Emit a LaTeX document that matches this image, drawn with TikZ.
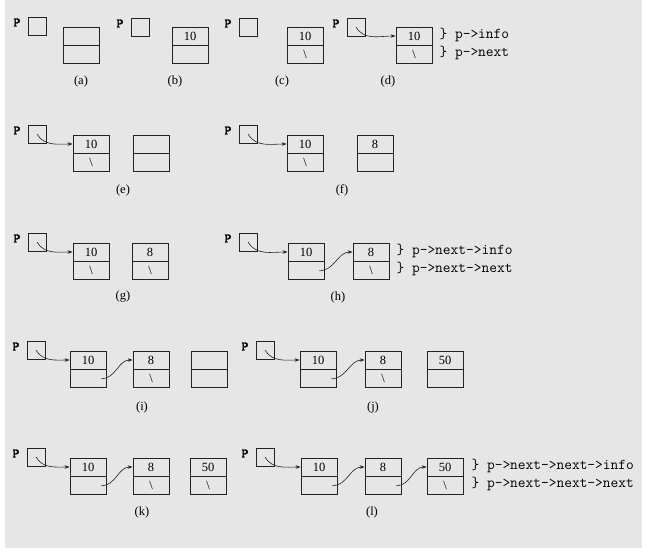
\documentclass[tikz,border=0pt]{standalone}
\usepackage{fontspec}
\setmainfont{Liberation Serif}
\newfontfamily\ptrfont[Extension=.otf,FakeBold=2.5]{lmmono10-regular}
\usetikzlibrary{positioning,arrows.meta}
\definecolor{panelgray}{HTML}{E6E6E6}
\definecolor{ink}{HTML}{222222}

\begin{document}
\begin{tikzpicture}[x=1pt,y=-1pt,
  cell/.style={rectangle,draw=ink,line width=0.8pt,minimum width=36pt,minimum height=18pt,inner sep=0pt,font=\fontsize{12.5}{14}\selectfont},
  ptrcell/.style={rectangle,draw=ink,line width=0.8pt,minimum size=18pt,inner sep=0pt},
  pname/.style={font=\fontsize{13}{15}\selectfont\ptrfont,inner sep=0pt},
  sublabel/.style={font=\fontsize{12.5}{14}\selectfont},
  field/.style={font=\fontsize{15}{17}\selectfont\ttfamily,inner sep=0pt},
  link/.style={draw=ink,line width=0.6pt,-{Stealth[length=5pt,width=3.5pt]}}]

\useasboundingbox (0,0) rectangle (646,552);
\fill[panelgray] (5,0) rectangle (642,548);

% (a)
\node[ptrcell] (pa) at (37,26) {};
\node[pname,left=7pt of pa,yshift=3.5pt] (Pa) {P};
\node[cell] (a1i) at (81,36) {};
\node[cell,below=0pt of a1i] (a1n) {};
\node[sublabel] (capa) at (81,81) {(a)};

% (b)
\node[ptrcell] (pb) at (140,27) {};
\node[pname,left=7pt of pb,yshift=3.5pt] (Pb) {P};
\node[cell] (b1i) at (190,36) {10};
\node[cell,below=0pt of b1i] (b1n) {};
\node[sublabel] (capb) at (175,81) {(b)};

% (c)
\node[ptrcell] (pc) at (248,27) {};
\node[pname,left=7pt of pc,yshift=3.5pt] (Pc) {P};
\node[cell] (c1i) at (305,36) {10};
\node[cell,below=0pt of c1i] (c1n) {\textbackslash};
\node[sublabel] (capc) at (282,81) {(c)};

% (d)
\node[ptrcell] (pd) at (356,27) {};
\node[pname,left=7pt of pd,yshift=3.5pt] (Pd) {P};
\node[cell] (d1i) at (414,36) {10};
\node[cell,below=0pt of d1i] (d1n) {\textbackslash};
\node[field,right=7pt of d1i,yshift=1pt] (dinfo) {\} p->info};
\node[field,right=7pt of d1n,yshift=2pt] (dnext) {\} p->next};
\node[sublabel] (capd) at (388,81) {(d)};
\draw[link] (pd.center) to[out=-60,in=180] (d1i.west);

% (e)
\node[ptrcell] (pe) at (37,134) {};
\node[pname,left=7pt of pe,yshift=3.5pt] (Pe) {P};
\node[cell] (e1i) at (91,144) {10};
\node[cell,below=0pt of e1i] (e1n) {\textbackslash};
\node[cell] (e2i) at (151,144) {};
\node[cell,below=0pt of e2i] (e2n) {};
\node[sublabel] (cape) at (123,190) {(e)};
\draw[link] (pe.center) to[out=-60,in=180] (e1i.west);

% (f)
\node[ptrcell] (pf) at (248,134) {};
\node[pname,left=7pt of pf,yshift=3.5pt] (Pf) {P};
\node[cell] (f1i) at (305,144) {10};
\node[cell,below=0pt of f1i] (f1n) {\textbackslash};
\node[cell] (f2i) at (375,144) {8};
\node[cell,below=0pt of f2i] (f2n) {};
\node[sublabel] (capf) at (342,190) {(f)};
\draw[link] (pf.center) to[out=-60,in=180] (f1i.west);

% (g)
\node[ptrcell] (pg) at (37,242) {};
\node[pname,left=7pt of pg,yshift=3.5pt] (Pg) {P};
\node[cell] (g1i) at (91,252) {10};
\node[cell,below=0pt of g1i] (g1n) {\textbackslash};
\node[cell] (g2i) at (150,252) {8};
\node[cell,below=0pt of g2i] (g2n) {\textbackslash};
\node[sublabel] (capg) at (123,297) {(g)};
\draw[link] (pg.center) to[out=-60,in=180] (g1i.west);

% (h)
\node[ptrcell] (ph) at (248,242) {};
\node[pname,left=7pt of ph,yshift=3.5pt] (Ph) {P};
\node[cell] (h1i) at (306,252) {10};
\node[cell,below=0pt of h1i] (h1n) {};
\node[cell] (h2i) at (371,252) {8};
\node[cell,below=0pt of h2i] (h2n) {\textbackslash};
\node[field,right=7pt of h2i,yshift=1pt] (hinfo) {\} p->next->info};
\node[field,right=7pt of h2n,yshift=2pt] (hnext) {\} p->next->next};
\node[sublabel] (caph) at (338,297) {(h)};
\draw[link] (ph.center) to[out=-60,in=180] (h1i.west);
\draw[link] ([xshift=-5pt]h1n.east) to[out=0,in=180] (h2i.west);

% (i)
\node[ptrcell] (pi) at (36,350) {};
\node[pname,left=7pt of pi,yshift=3.5pt] (Pi) {P};
\node[cell] (i1i) at (88,360) {10};
\node[cell,below=0pt of i1i] (i1n) {};
\node[cell] (i2i) at (151,360) {8};
\node[cell,below=0pt of i2i] (i2n) {\textbackslash};
\node[cell] (i3i) at (209,360) {};
\node[cell,below=0pt of i3i] (i3n) {};
\node[sublabel] (capi) at (142,407) {(i)};
\draw[link] (pi.center) to[out=-60,in=180] (i1i.west);
\draw[link] ([xshift=-5pt]i1n.east) to[out=0,in=180] (i2i.west);

% (j)
\node[ptrcell] (pj) at (265,350) {};
\node[pname,left=7pt of pj,yshift=3.5pt] (Pj) {P};
\node[cell] (j1i) at (318,360) {10};
\node[cell,below=0pt of j1i] (j1n) {};
\node[cell] (j2i) at (383,360) {8};
\node[cell,below=0pt of j2i] (j2n) {\textbackslash};
\node[cell] (j3i) at (445,360) {50};
\node[cell,below=0pt of j3i] (j3n) {};
\node[sublabel] (capj) at (373,407) {(j)};
\draw[link] (pj.center) to[out=-60,in=180] (j1i.west);
\draw[link] ([xshift=-5pt]j1n.east) to[out=0,in=180] (j2i.west);

% (k)
\node[ptrcell] (pk) at (36,457) {};
\node[pname,left=7pt of pk,yshift=3.5pt] (Pk) {P};
\node[cell] (k1i) at (88,467) {10};
\node[cell,below=0pt of k1i] (k1n) {};
\node[cell] (k2i) at (151,467) {8};
\node[cell,below=0pt of k2i] (k2n) {\textbackslash};
\node[cell] (k3i) at (208,467) {50};
\node[cell,below=0pt of k3i] (k3n) {\textbackslash};
\node[sublabel] (capk) at (142,512) {(k)};
\draw[link] (pk.center) to[out=-60,in=180] (k1i.west);
\draw[link] ([xshift=-5pt]k1n.east) to[out=0,in=180] (k2i.west);

% (l)
\node[ptrcell] (pl) at (265,457) {};
\node[pname,left=7pt of pl,yshift=3.5pt] (Pl) {P};
\node[cell] (l1i) at (319,467) {10};
\node[cell,below=0pt of l1i] (l1n) {};
\node[cell] (l2i) at (383,467) {8};
\node[cell,below=0pt of l2i] (l2n) {};
\node[cell] (l3i) at (445,467) {50};
\node[cell,below=0pt of l3i] (l3n) {\textbackslash};
\node[field,right=8pt of l3i,yshift=1pt] (linfo) {\} p->next->next->info};
\node[field,right=8pt of l3n,yshift=2pt] (lnext) {\} p->next->next->next};
\node[sublabel] (capl) at (372,512) {(l)};
\draw[link] (pl.center) to[out=-60,in=180] (l1i.west);
\draw[link] ([xshift=-5pt]l1n.east) to[out=0,in=180] (l2i.west);
\draw[link] ([xshift=-5pt]l2n.east) to[out=0,in=180] (l3i.west);

\end{tikzpicture}
\end{document}
